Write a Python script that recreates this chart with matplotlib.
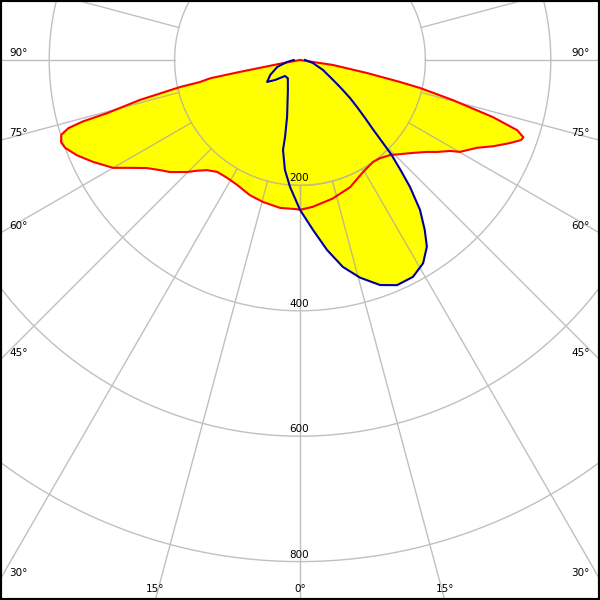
import matplotlib
matplotlib.use('Agg')
import matplotlib.pyplot as plt
import numpy as np

# light distribution curve, C0-C180 plane (red) and C90-C270 plane (blue)
red_angles = [-90, -79.5, -78.8, -78.5, -77.6, -77.3, -76, -74.6, -74.2, -73.6,
              -72.6, -71, -69.5, -66.9, -63.8, -60, -57.6, -54.8, -51.8, -49.3,
              -45.3, -42.9, -40.2, -36.5, -31.7, -26.7, -20.3, -14.6, -7.7, -1.2,
              0, 5, 13.3, 21.5, 29.4, 35.6, 39.2, 43.5, 50.5, 54.1,
              56.1, 58.8, 60.1, 63.6, 66, 68.4, 70.1, 70.9, 72.1, 73.5,
              75.3, 76.9, 77.6, 79, 81.4, 90]
red_cd = [0, 30, 100, 146, 163, 196, 263, 319, 360, 385,
          399, 403, 400, 387, 368, 344, 321, 299, 284, 274,
          254, 241, 230, 222, 221, 223, 230, 234, 238, 238,
          239, 235, 227, 218, 205, 200, 202, 209, 233, 250,
          263, 280, 294, 315, 338, 360, 375, 377, 364, 321,
          252, 196, 163, 109, 53, 0]

blue_angles = [-90, -81.3, -73, -63.4, -56.3, -51.3, -43.2, -33.7, -21.8, -12.8,
               -11, -10.7, -7.8, -4.5, -1.2, 0, 4.4, 8.1, 11.7, 15.4,
               19.6, 23.3, 27.5, 31.2, 34.2, 36.3, 38.7, 40.9, 42.3, 44,
               45, 46.5, 48.2, 50.5, 52.8, 55.5, 58.8, 66.5, 77, 90]
blue_cd = [10, 21, 38, 53, 63, 51, 35, 35, 52, 93,
           125, 146, 177, 203, 228, 239, 272, 306, 337, 360,
           381, 391, 390, 379, 360, 336, 306, 268, 240, 210,
           187, 160, 140, 118, 100, 80, 62, 40, 21, 8]

rings = [200, 400, 600, 800, 1000]
ring_labels = ['200', '400', '600', '800']
spokes = np.arange(-180, 181, 15)
side_labels = [90, 75, 60, 45, 30]
bottom_labels = [-15, 0, 15]

K = 0.627  # px per cd
FS = 7.5

fig = plt.figure(figsize=(6, 6), dpi=100)
ax = fig.add_axes([0, 0, 1, 1])
xmax = 300 / K
ymin, ymax = -540 / K, 60 / K
ax.set_xlim(-xmax, xmax)
ax.set_ylim(ymin, ymax)
ax.set_xticks([])
ax.set_yticks([])
for s in ax.spines.values():
    s.set_linewidth(3)
    s.set_color('black')
    s.set_zorder(10)


def to_xy(ang, cd):
    a = np.radians(np.asarray(ang, dtype=float))
    r = np.asarray(cd, dtype=float)
    return r * np.sin(a), -r * np.cos(a)


# filled curves
rx, ry = to_xy(red_angles, red_cd)
bx, by = to_xy(blue_angles, blue_cd)
patches = []
patches += ax.fill(rx, ry, facecolor='#ffff00', edgecolor='none', zorder=0.5)
patches += ax.fill(bx, by, facecolor='#ffff00', edgecolor='none', zorder=0.5)

# grid lines: grey on white, khaki where they cross the yellow
grid = []
t = np.linspace(0, 2 * np.pi, 400)
for r in rings:
    grid.append((r * np.cos(t), r * np.sin(t)))
for g in spokes:
    grid.append(to_xy([g, g], [200, 2000]))
for x, y in grid:
    ax.plot(x, y, color='#c0c0c0', lw=1.0, zorder=0.3)
    for p in patches:
        ln, = ax.plot(x, y, color='#c4bc78', lw=1.0, zorder=2)
        ln.set_clip_path(p)

ax.plot(rx, ry, color='#ff0000', lw=1.5, zorder=3)
ax.plot(bx, by, color='#0000a0', lw=1.5, zorder=4)

# labels
off = 7 / K
for g in side_labels:
    yy = 0 if g == 90 else -xmax / np.tan(np.radians(g))
    ax.text(-xmax + 9 / K, yy + off, f'{g}°', fontsize=FS, ha='left', va='center')
    ax.text(xmax - 10 / K, yy + off, f'{g}°', fontsize=FS, ha='right', va='center')
for g in bottom_labels:
    xx = -ymin * np.tan(np.radians(g))
    ax.text(xx, ymin + 11 / K, f'{abs(g)}°', fontsize=FS, ha='center', va='center')
for lab in ring_labels:
    v = float(lab)
    ax.text(-1 / K, -v + off, lab, fontsize=FS, ha='center', va='center', zorder=5)

fig.savefig('out.png', dpi=100)
